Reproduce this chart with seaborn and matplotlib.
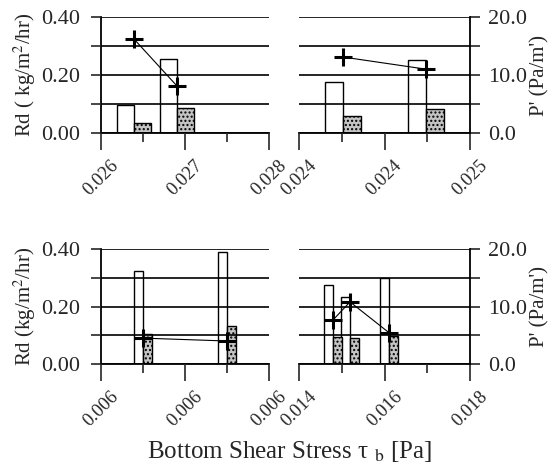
import numpy as np
import matplotlib
matplotlib.use("Agg")
import matplotlib.pyplot as plt
import seaborn as sns

# --- данные ---
# верх-лево
tl_x = [0.026393, 0.026905]
tl_rd_white = [0.097, 0.255]
tl_rd_dot = [0.034, 0.086]
tl_p = [16.2, 8.1]
tl_ticks = [0.026, 0.027, 0.028]
tl_minor = [0.0265, 0.0275]
tl_labels = ["0.026", "0.027", "0.028"]

# верх-право
tr_x = [0.024257, 0.024743]
tr_rd_white = [0.176, 0.252]
tr_rd_dot = [0.059, 0.083]
tr_p = [13.1, 11.0]
tr_ticks = [0.024, 0.0245, 0.025]
tr_minor = [0.02425, 0.02475]
tr_labels = ["0.024", "0.024", "0.025"]

# низ-лево
bl_x = [0.0061, 0.0063]
bl_rd_white = [0.323, 0.390]
bl_rd_dot = [0.104, 0.132]
bl_p = [4.5, 4.0]
bl_ticks = [0.0060, 0.0062, 0.0064]
bl_minor = [0.0061, 0.0063]
bl_labels = ["0.006", "0.006", "0.006"]

# низ-право
br_x = [0.014795, 0.015193, 0.016105]
br_rd_white = [0.275, 0.233, 0.300]
br_rd_dot = [0.094, 0.090, 0.097]
br_p = [7.65, 10.8, 5.45]
br_ticks = [0.014, 0.016, 0.018]
br_minor = [0.015, 0.017]
br_labels = ["0.014", "0.016", "0.018"]

rd_labels = ["0.00", "", "0.20", "", "0.40"]
p_labels = ["0.0", "", "10.0", "", "20.0"]

sns.set_style("white")
plt.rcParams["font.family"] = ["Liberation Serif", "DejaVu Serif"]
plt.rcParams["mathtext.fontset"] = "stix"

fig = plt.figure(figsize=(5.54, 4.71), dpi=100)

W, H = 554, 471


def panel(px0, px1, py_top, py_bot, x, white, dot, p, ticks, minor, labels,
          frac, side, ylab):
    ax = fig.add_axes([px0 / W, 1 - py_bot / H, (px1 - px0) / W, (py_bot - py_top) / H])
    ax.set_xlim(ticks[0], ticks[-1])
    ax.set_ylim(0, 0.4)
    w = frac * (ticks[-1] - ticks[0])
    x = np.array(x)
    ax.bar(x - w / 2, white, width=w, color="white", edgecolor="black", lw=1.0, zorder=2)
    ax.bar(x + w / 2, dot, width=w, color="#c4c4c4", edgecolor="black", lw=1.0,
           hatch="....", zorder=2)
    ax.set_yticks([0.0, 0.1, 0.2, 0.3, 0.4])
    ax.grid(axis="y", color="black", lw=1.2, zorder=3)
    ax.set_axisbelow(False)
    ax.set_xticks(ticks)
    ax.set_xticklabels(labels, rotation=45, ha="center", va="top", fontsize=13.5)
    ax.set_xticks(minor, minor=True)
    ax.tick_params(axis="x", which="major", direction="out", length=12, width=1.2,
                   bottom=True, pad=5)
    ax.tick_params(axis="x", which="minor", direction="out", length=6.5, width=1.2,
                   bottom=True)
    for s in ["top", "right", "left"]:
        ax.spines[s].set_visible(False)
    ax.spines["bottom"].set_linewidth(1.3)
    ax.spines["bottom"].set_color("black")

    ax2 = ax.twinx()
    ax2.set_ylim(0, 20)
    sns.lineplot(x=x, y=p, ax=ax2, color="black", lw=0.8, marker="+",
                 markersize=13, markeredgewidth=2.2, markeredgecolor="black")
    for s in ["top", "left", "bottom", "right"]:
        ax2.spines[s].set_visible(False)
    ax2.set_ylabel("")

    if side == "left":
        ax.spines["left"].set_visible(True)
        ax.spines["left"].set_linewidth(1.3)
        ax.spines["left"].set_color("black")
        ax.tick_params(axis="y", left=True, direction="out", length=7, width=1.2,
                       labelsize=16, pad=8)
        ax.set_yticklabels(rd_labels)
        ax.set_ylabel(ylab, fontsize=15, labelpad=2)
        ax2.set_yticks([])
    else:
        ax.tick_params(axis="y", left=False, labelleft=False)
        ax2.spines["right"].set_visible(True)
        ax2.spines["right"].set_linewidth(1.3)
        ax2.spines["right"].set_color("black")
        ax2.set_yticks([0, 5, 10, 15, 20])
        ax2.set_yticklabels(p_labels)
        ax2.tick_params(axis="y", right=True, direction="out", length=7, width=1.2,
                        labelsize=16, pad=6)
        ax2.set_ylabel(ylab, fontsize=15, labelpad=2)
    return ax


panel(101, 269, 17, 133, tl_x, tl_rd_white, tl_rd_dot, tl_p, tl_ticks, tl_minor,
      tl_labels, 0.1, "left", "Rd ( kg/m$^2$/hr)")
panel(299, 470, 17, 133, tr_x, tr_rd_white, tr_rd_dot, tr_p, tr_ticks, tr_minor,
      tr_labels, 0.105, "right", "P' (Pa/m')")
panel(101, 269, 249, 364, bl_x, bl_rd_white, bl_rd_dot, bl_p, bl_ticks, bl_minor,
      bl_labels, 0.055, "left", "Rd (kg/m$^2$/hr)")
panel(299, 470, 249, 364, br_x, br_rd_white, br_rd_dot, br_p, br_ticks, br_minor,
      br_labels, 0.05, "right", "P' (Pa/m')")

fig.text(290 / W, 1 - 452 / H, r"Bottom Shear Stress τ $_{\mathrm{b}}$ [Pa]",
         ha="center", va="center", fontsize=18)

fig.savefig("out.png", dpi=100)
